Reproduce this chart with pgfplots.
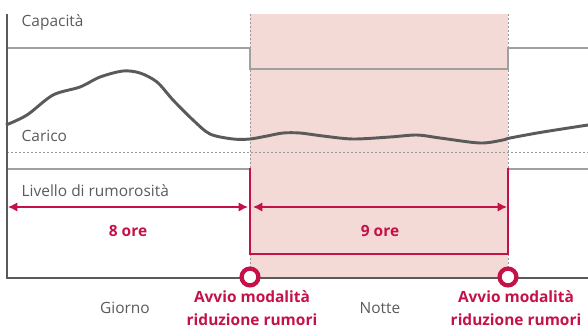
\documentclass[border=0pt]{standalone}
\usepackage{pgfplots}
\pgfplotsset{compat=1.18}
\usetikzlibrary{arrows.meta}
\usepackage{fontspec}
\setmainfont{Open Sans}
\definecolor{lgred}{RGB}{196,18,72}
\definecolor{pinkbg}{RGB}{243,218,214}
\definecolor{txtgray}{RGB}{90,90,90}
\definecolor{capgray}{RGB}{160,160,160}
\definecolor{loadgray}{RGB}{90,90,90}
\begin{document}
\begin{tikzpicture}[x=1pt,y=1pt]
\begin{axis}[
  width=441pt, height=246.75pt, scale only axis,
  xmin=0, xmax=588, ymin=0, ymax=329, y dir=reverse,
  axis lines=none, clip=false,
  font=\fontsize{11.6pt}{13pt}\selectfont,
]
% night band
\addplot[fill=pinkbg, draw=none] coordinates {(250,14) (508,14) (508,277) (250,277)} -- cycle;
% dotted guides
\addplot[gray!80, line width=0.6pt, dash pattern=on 1.5pt off 1.5pt] coordinates {(250,14) (250,277)};
\addplot[gray!80, line width=0.6pt, dash pattern=on 1.5pt off 1.5pt] coordinates {(508,14) (508,277)};
\addplot[gray!80, line width=0.6pt, dash pattern=on 1.5pt off 1.5pt] coordinates {(7,152) (588,152)};
% capacity
\addplot[capgray, line width=2.2pt] coordinates {(7,48) (250,48) (250,69) (508,69) (508,48) (588,48)};
% load
\addplot[loadgray, line width=2.2pt, smooth, tension=0.5] coordinates {
(6,125) (27,115) (53,95) (80,87) (100,77) (123,71) (140,73) (157,82) (173,100) (193,120) (210,134) (233,139) (250,139) (267,136) (283,133) (300,133) (323,136) (353,139) (390,137) (417,135) (440,138) (480,143) (503,140) (510,138) (543,132) (588,125)};
% noise level
\addplot[capgray, line width=2.2pt] coordinates {(7,169) (250,169)};
\addplot[capgray, line width=2.2pt] coordinates {(508,169) (588,169)};
\addplot[lgred, line width=1.9pt] coordinates {(250,168) (250,254) (508,254) (508,168)};
% axes
\addplot[txtgray, line width=1.5pt] coordinates {(7,14) (7,277.5) (588,277.5)};
% arrows
\addplot[lgred, line width=1.1pt, {Latex[length=7pt,width=7pt]}-{Latex[length=7pt,width=7pt]}] coordinates {(8,207) (248,207)};
\addplot[lgred, line width=1.1pt, {Latex[length=7pt,width=7pt]}-{Latex[length=7pt,width=7pt]}] coordinates {(253,207) (507,207)};
% switch markers
\addplot[only marks, mark=*, mark size=6.3pt, mark options={fill=white, draw=lgred, line width=3.2pt}] coordinates {(250,277) (508,277)};
% labels
\node[anchor=west, text=txtgray] at (axis cs:17,22) {Capacità};
\node[anchor=west, text=txtgray] at (axis cs:17,136) {Carico};
\node[anchor=west, text=txtgray] at (axis cs:17,191) {Livello di rumorosità};
\node[text=lgred, font=\fontsize{11.6pt}{13pt}\selectfont\bfseries] at (axis cs:128,231) {8 ore};
\node[text=lgred, font=\fontsize{11.6pt}{13pt}\selectfont\bfseries] at (axis cs:380,231) {9 ore};
\node[text=txtgray] at (axis cs:125,308) {Giorno};
\node[text=txtgray] at (axis cs:380,308) {Notte};
\node[text=lgred, font=\fontsize{11.6pt}{13pt}\selectfont\bfseries] at (axis cs:252,297) {Avvio modalità};
\node[text=lgred, font=\fontsize{11.6pt}{13pt}\selectfont\bfseries] at (axis cs:252,320) {riduzione rumori};
\node[text=lgred, font=\fontsize{11.6pt}{13pt}\selectfont\bfseries] at (axis cs:516,297) {Avvio modalità};
\node[text=lgred, font=\fontsize{11.6pt}{13pt}\selectfont\bfseries] at (axis cs:516,320) {riduzione rumori};
\end{axis}
\pgfresetboundingbox
\path[use as bounding box] (current axis.south west) rectangle (current axis.north east);
\end{tikzpicture}
\end{document}
